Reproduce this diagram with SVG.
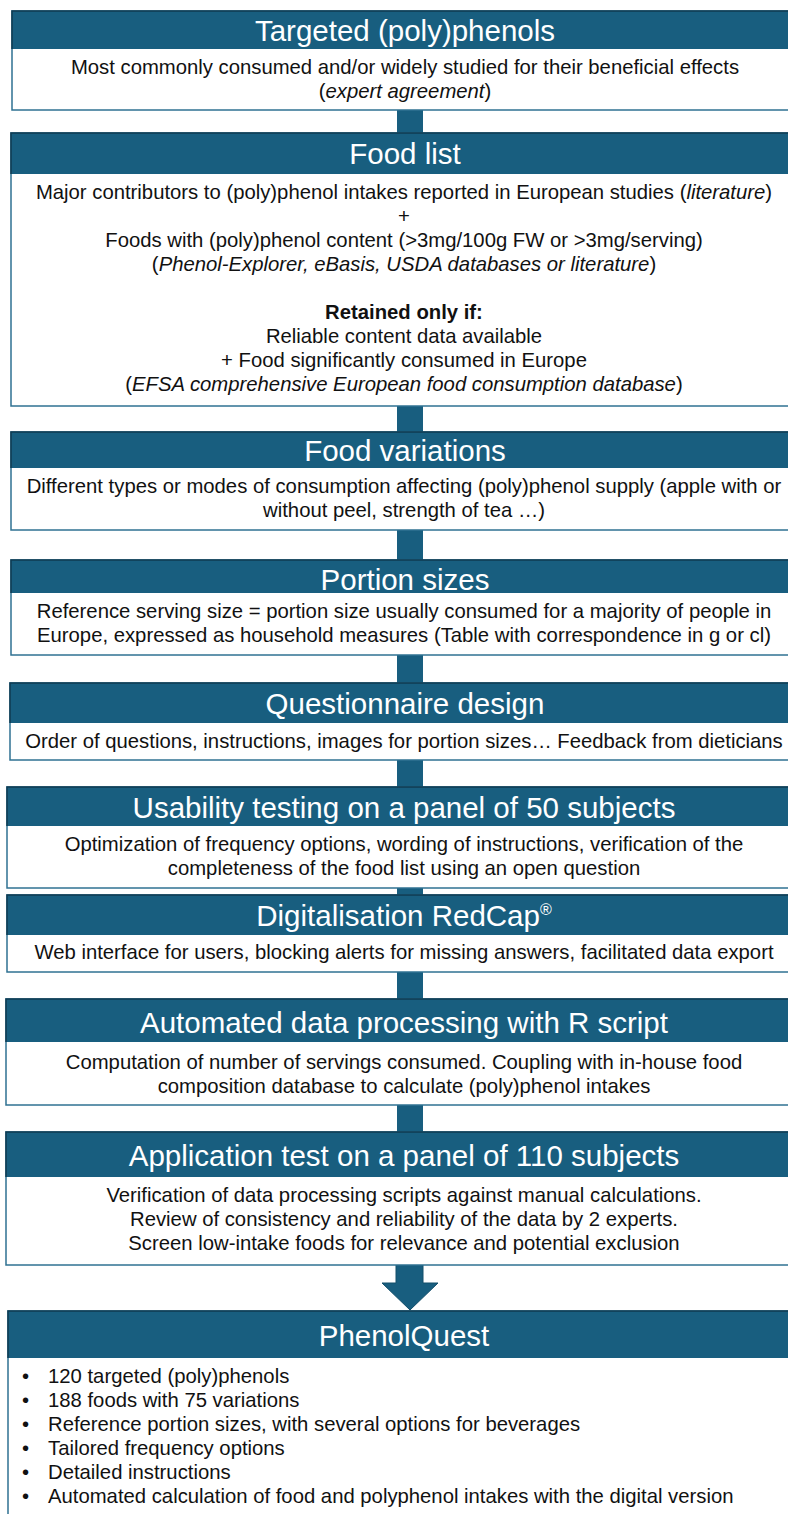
<svg xmlns="http://www.w3.org/2000/svg" width="788" height="1514" viewBox="0 0 788 1514">
  <style>
    .body { fill: #ffffff; stroke: #2f7292; stroke-width: 1.5; }
    .head { fill: #185e7f; }
    .edge { fill: none; stroke: #0f3b52; stroke-width: 1.5; }
    .title { font-family: "Liberation Sans", Arial, sans-serif; font-size: 29.5px; fill: #ffffff; text-anchor: middle; }
    .txt { font-family: "Liberation Sans", Arial, sans-serif; font-size: 20.3px; fill: #111111; text-anchor: middle; }
    .lst { font-family: "Liberation Sans", Arial, sans-serif; font-size: 20.3px; fill: #111111; }
    .link { fill: #185e7f; }
    .i { font-style: italic; }
    .b { font-weight: bold; }
  </style>

  <!-- connectors between the steps -->
  <g id="connectors">
    <rect class="link" x="397" y="109" width="26" height="25"/>
    <rect class="link" x="397" y="405" width="26" height="28"/>
    <rect class="link" x="397" y="529" width="26" height="32"/>
    <rect class="link" x="397" y="654" width="26" height="30"/>
    <rect class="link" x="397" y="759" width="26" height="29"/>
    <rect class="link" x="397" y="887" width="26" height="9"/>
    <rect class="link" x="397" y="971" width="26" height="29"/>
    <rect class="link" x="397" y="1104" width="26" height="29"/>
    <path class="link" d="M396 1265 H423 V1283 H438 L410 1310 L382 1283 H396 Z" stroke="#134e6a" stroke-width="1"/>
  </g>

  <g id="targeted">
    <rect class="body" x="12" y="11" width="800" height="99"/>
    <rect class="head" x="12" y="11" width="800" height="38"/>
    <path class="edge" d="M12 49 V11 H800"/>
    <text class="title" x="405" y="41" font-size="29">Targeted (poly)phenols</text>
    <text class="txt" x="405" y="74">Most commonly consumed and/or widely studied for their beneficial effects</text>
    <text class="txt" x="405" y="98">(<tspan class="i">expert agreement</tspan>)</text>
  </g>

  <g id="food-list">
    <rect class="body" x="11" y="133" width="800" height="273"/>
    <rect class="head" x="11" y="133" width="800" height="41"/>
    <path class="edge" d="M11 174 V133 H800"/>
    <text class="title" x="405" y="164">Food list</text>
    <text class="txt" x="404" y="199">Major contributors to (poly)phenol intakes reported in European studies (<tspan class="i">literature</tspan>)</text>
    <text class="txt" x="404" y="223">+</text>
    <text class="txt" x="404" y="247">Foods with (poly)phenol content (&gt;3mg/100g FW or &gt;3mg/serving)</text>
    <text class="txt" x="404" y="271">(<tspan class="i">Phenol-Explorer, eBasis, USDA databases or literature</tspan>)</text>
    <text class="txt b" x="404" y="319">Retained only if:</text>
    <text class="txt" x="404" y="343">Reliable content data available</text>
    <text class="txt" x="404" y="367">+ Food significantly consumed in Europe</text>
    <text class="txt" x="404" y="391">(<tspan class="i">EFSA comprehensive European food consumption database</tspan>)</text>
  </g>

  <g id="food-variations">
    <rect class="body" x="11" y="432" width="800" height="98"/>
    <rect class="head" x="11" y="432" width="800" height="36"/>
    <path class="edge" d="M11 468 V432 H800"/>
    <text class="title" x="405" y="461">Food variations</text>
    <text class="txt" x="404" y="493">Different types or modes of consumption affecting (poly)phenol supply (apple with or</text>
    <text class="txt" x="404" y="517">without peel, strength of tea …)</text>
  </g>

  <g id="portion-sizes">
    <rect class="body" x="11" y="560" width="800" height="95"/>
    <rect class="head" x="11" y="560" width="800" height="33"/>
    <path class="edge" d="M11 593 V560 H800"/>
    <text class="title" x="405" y="590">Portion sizes</text>
    <text class="txt" x="404" y="618">Reference serving size = portion size usually consumed for a majority of people in</text>
    <text class="txt" x="404" y="642">Europe, expressed as household measures (Table with correspondence in g or cl)</text>
  </g>

  <g id="questionnaire-design">
    <rect class="body" x="10" y="683" width="800" height="77"/>
    <rect class="head" x="10" y="683" width="800" height="40"/>
    <path class="edge" d="M10 723 V683 H800"/>
    <text class="title" x="405" y="714">Questionnaire design</text>
    <text class="txt" x="404" y="748">Order of questions, instructions, images for portion sizes… Feedback from dieticians</text>
  </g>

  <g id="usability-testing">
    <rect class="body" x="7" y="787" width="800" height="101"/>
    <rect class="head" x="7" y="787" width="800" height="39"/>
    <path class="edge" d="M7 826 V787 H800"/>
    <text class="title" x="404" y="818">Usability testing on a panel of 50 subjects</text>
    <text class="txt" x="404" y="851">Optimization of frequency options, wording of instructions, verification of the</text>
    <text class="txt" x="404" y="875">completeness of the food list using an open question</text>
  </g>

  <g id="digitalisation">
    <rect class="body" x="7" y="895" width="800" height="77"/>
    <rect class="head" x="7" y="895" width="800" height="40"/>
    <path class="edge" d="M7 935 V895 H800"/>
    <text class="title" x="404" y="926">Digitalisation RedCap<tspan font-size="16" dy="-11">®</tspan></text>
    <text class="txt" x="404" y="959">Web interface for users, blocking alerts for missing answers, facilitated data export</text>
  </g>

  <g id="automated-processing">
    <rect class="body" x="6" y="999" width="800" height="106"/>
    <rect class="head" x="6" y="999" width="800" height="43"/>
    <path class="edge" d="M6 1042 V999 H800"/>
    <text class="title" x="404" y="1033">Automated data processing with R script</text>
    <text class="txt" x="404" y="1069">Computation of number of servings consumed. Coupling with in-house food</text>
    <text class="txt" x="404" y="1093">composition database to calculate (poly)phenol intakes</text>
  </g>

  <g id="application-test">
    <rect class="body" x="6" y="1132" width="800" height="133"/>
    <rect class="head" x="6" y="1132" width="800" height="45"/>
    <path class="edge" d="M6 1177 V1132 H800"/>
    <text class="title" x="404" y="1166">Application test on a panel of 110 subjects</text>
    <text class="txt" x="404" y="1202">Verification of data processing scripts against manual calculations.</text>
    <text class="txt" x="404" y="1226">Review of consistency and reliability of the data by 2 experts.</text>
    <text class="txt" x="404" y="1250">Screen low-intake foods for relevance and potential exclusion</text>
  </g>

  <g id="phenolquest">
    <rect class="body" x="8" y="1311" width="800" height="230"/>
    <rect class="head" x="8" y="1311" width="800" height="47"/>
    <path class="edge" d="M8 1358 V1311 H800"/>
    <text class="title" x="404" y="1346">PhenolQuest</text>
    <g class="lst">
      <text x="22" y="1383">•</text><text x="48" y="1383">120 targeted (poly)phenols</text>
      <text x="22" y="1407">•</text><text x="48" y="1407">188 foods with 75 variations</text>
      <text x="22" y="1431">•</text><text x="48" y="1431">Reference portion sizes, with several options for beverages</text>
      <text x="22" y="1455">•</text><text x="48" y="1455">Tailored frequency options</text>
      <text x="22" y="1479">•</text><text x="48" y="1479">Detailed instructions</text>
      <text x="22" y="1503">•</text><text x="48" y="1503">Automated calculation of food and polyphenol intakes with the digital version</text>
    </g>
  </g>
</svg>
